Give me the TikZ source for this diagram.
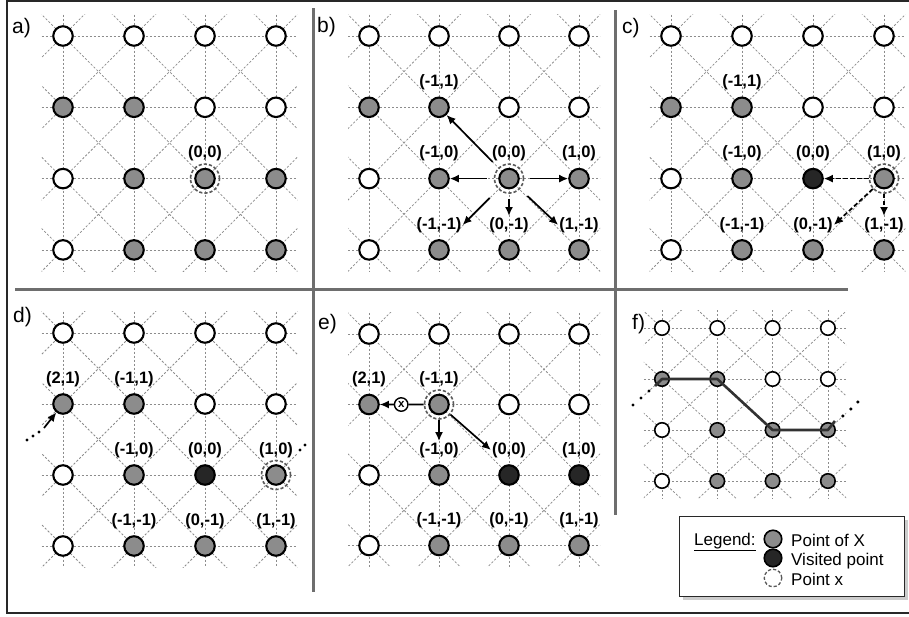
\documentclass[tikz,border=0pt]{standalone}
\usepackage{fontspec}
\setmainfont{Liberation Sans}
\usetikzlibrary{arrows.meta,calc}
\definecolor{ptgray}{RGB}{140,140,140}
\definecolor{visit}{RGB}{38,38,38}
\definecolor{gridc}{RGB}{140,140,140}
\definecolor{divc}{RGB}{110,110,110}
\definecolor{ringc}{RGB}{90,90,90}
\definecolor{framec}{RGB}{40,40,40}
\definecolor{pathc}{RGB}{50,50,50}
\tikzset{
  gridl/.style={gridc, line width=0.75pt, dash pattern=on 2.2pt off 1.8pt},
  pt/.style={circle, draw=black, line width=2.1pt, minimum size=19.5pt, inner sep=0pt},
  spt/.style={circle, draw=black, line width=1.6pt, minimum size=14.5pt, inner sep=0pt},
  ring/.style={circle, draw=ringc, line width=1.6pt, dash pattern=on 3.2pt off 2pt, minimum size=29pt, inner sep=0pt},
  lbl/.style={font=\bfseries\fontsize{16.5}{16.5}\selectfont, inner sep=1pt},
  plbl/.style={font=\fontsize{21}{21}\selectfont, anchor=base west, inner sep=0pt},
  legtxt/.style={font=\fontsize{17}{17}\selectfont, anchor=base west, inner sep=0pt},
  arr/.style={-{Latex[length=9pt,width=8pt]}, line width=1.7pt, black},
  darr/.style={arr, dash pattern=on 4.5pt off 2.5pt},
  divider/.style={divc, line width=3pt},
  pathl/.style={pathc, line width=2.6pt, line join=round},
  xcirc/.style={circle, draw=black, line width=1.4pt, fill=white, minimum size=13.5pt, inner sep=0pt, font=\bfseries\fontsize{11.5}{11.5}\selectfont}
}
\newcommand\latgrid[2]{%
  \foreach \k in {0,...,3} {
    \draw[gridl] (-#1,\k) -- (3+#1,\k);
    \draw[gridl] (\k,-#2) -- (\k,3+#2);
  }
  \begin{scope}
    \clip (-#1,-#2) rectangle (3+#1,3+#2);
    \foreach \k in {-3,...,3} \draw[gridl] (\k-1,-1) -- (\k+5,5);
    \foreach \k in {0,...,6} \draw[gridl] (\k+1,-1) -- (\k-5,5);
  \end{scope}
}
\newcommand\lab[4]{\node[lbl] (#1-l-#2-#3) at ([yshift=25pt]#1-#2-#3) {#4};}
\def\ptsA{0/0/white,1/0/white,2/0/white,3/0/white,0/1/ptgray,1/1/ptgray,2/1/white,3/1/white,0/2/white,1/2/ptgray,2/2/ptgray,3/2/ptgray,0/3/white,1/3/ptgray,2/3/ptgray,3/3/ptgray}
\def\ptsC{0/0/white,1/0/white,2/0/white,3/0/white,0/1/ptgray,1/1/ptgray,2/1/white,3/1/white,0/2/white,1/2/ptgray,2/2/visit,3/2/ptgray,0/3/white,1/3/ptgray,2/3/ptgray,3/3/ptgray}
\def\ptsE{0/0/white,1/0/white,2/0/white,3/0/white,0/1/ptgray,1/1/ptgray,2/1/white,3/1/white,0/2/white,1/2/ptgray,2/2/visit,3/2/visit,0/3/white,1/3/ptgray,2/3/ptgray,3/3/ptgray}
\begin{document}
\begin{tikzpicture}[x=1pt,y=-1pt]
\useasboundingbox (0,0) rectangle (909,616);
\fill[white] (0,0) rectangle (909,616);
% frame and dividers
\draw[framec, line width=1.5pt] (7,1) rectangle (916,613);
\draw[divider] (15,289) -- (848,289);
\draw[divider] (313,8) -- (313,592);
\draw[divider] (615,10) -- (615,515);

% ---------- panel a
\begin{scope}[shift={(63,36)}, x=71pt, y=-71.3pt]
  \latgrid{0.3}{0.3}
  \foreach \i/\j/\c in \ptsA {\node[pt, fill=\c] (a-\i-\j) at (\i,\j) {};}
\end{scope}
\node[ring] (a-ring) at (a-2-2) {};
\lab{a}{2}{2}{(0,0)}
\node[plbl] (la) at (12,33) {a)};

% ---------- panel b
\begin{scope}[shift={(369,36)}, x=70pt, y=-71.3pt]
  \latgrid{0.3}{0.3}
  \foreach \i/\j/\c in \ptsA {\node[pt, fill=\c] (b-\i-\j) at (\i,\j) {};}
\end{scope}
\node[ring] (b-ring) at (b-2-2) {};
\lab{b}{1}{1}{(-1,1)}
\lab{b}{1}{2}{(-1,0)}
\lab{b}{2}{2}{(0,0)}
\lab{b}{3}{2}{(1,0)}
\lab{b}{1}{3}{(-1,-1)}
\lab{b}{2}{3}{(0,-1)}
\lab{b}{3}{3}{(1,-1)}
\node[plbl] (lb) at (317,32) {b)};
\draw[arr, shorten <=8pt] (b-ring) -- (b-1-1);
\draw[arr, shorten <=7pt] (b-ring) -- (b-1-2);
\draw[arr, shorten <=6pt] (b-ring) -- (b-3-2);
\draw[arr, shorten <=12pt] (b-ring) -- (b-l-1-3.east);
\draw[arr, shorten <=5pt] (b-ring) -- (b-l-2-3.north);
\draw[arr, shorten <=10pt] (b-ring) -- (b-l-3-3.west);

% ---------- panel c
\begin{scope}[shift={(671,36)}, x=71pt, y=-71.3pt]
  \latgrid{0.3}{0.3}
  \foreach \i/\j/\c in \ptsC {\node[pt, fill=\c] (c-\i-\j) at (\i,\j) {};}
\end{scope}
\node[ring] (c-ring) at (c-3-2) {};
\lab{c}{1}{1}{(-1,1)}
\lab{c}{1}{2}{(-1,0)}
\lab{c}{2}{2}{(0,0)}
\lab{c}{3}{2}{(1,0)}
\lab{c}{1}{3}{(-1,-1)}
\lab{c}{2}{3}{(0,-1)}
\lab{c}{3}{3}{(1,-1)}
\node[plbl] (lc) at (622,33) {c)};
\draw[darr] (c-ring) -- (c-2-2);
\draw[darr] (c-ring) -- (c-l-3-3.north);
\draw[darr] (c-ring) -- (c-l-2-3.east);

% ---------- panel d
\begin{scope}[shift={(63,333)}, x=71pt, y=-71pt]
  \latgrid{0.3}{0.3}
  \foreach \i/\j/\c in \ptsC {\node[pt, fill=\c] (d-\i-\j) at (\i,\j) {};}
\end{scope}
\node[ring] (d-ring) at (d-3-2) {};
\lab{d}{0}{1}{(2,1)}
\lab{d}{1}{1}{(-1,1)}
\lab{d}{1}{2}{(-1,0)}
\lab{d}{2}{2}{(0,0)}
\lab{d}{3}{2}{(1,0)}
\lab{d}{1}{3}{(-1,-1)}
\lab{d}{2}{3}{(0,-1)}
\lab{d}{3}{3}{(1,-1)}
\node[plbl] (ld) at (13,322) {d)};
\coordinate (d-tail) at ($(d-0-1)+(-19pt,-24pt)$);
\draw[arr] (d-tail) -- (d-0-1);
\fill ($(d-tail)+(-5pt,-4pt)$) circle (1.6pt);
\fill ($(d-tail)+(-11pt,-8pt)$) circle (1.6pt);
\fill ($(d-tail)+(-17pt,-12pt)$) circle (1.6pt);
\fill ($(d-3-2)+(24pt,25pt)$) circle (1.6pt);
\fill ($(d-3-2)+(29pt,30pt)$) circle (1.6pt);

% ---------- panel e
\begin{scope}[shift={(369,334)}, x=70pt, y=-70.5pt]
  \latgrid{0.3}{0.3}
  \foreach \i/\j/\c in \ptsE {\node[pt, fill=\c] (e-\i-\j) at (\i,\j) {};}
\end{scope}
\node[ring] (e-ring) at (e-1-1) {};
\lab{e}{0}{1}{(2,1)}
\lab{e}{1}{1}{(-1,1)}
\lab{e}{1}{2}{(-1,0)}
\lab{e}{2}{2}{(0,0)}
\lab{e}{3}{2}{(1,0)}
\lab{e}{1}{3}{(-1,-1)}
\lab{e}{2}{3}{(0,-1)}
\lab{e}{3}{3}{(1,-1)}
\node[plbl] (le) at (318,329) {e)};
\node[xcirc] (e-xc) at ($(e-0-1)!0.46!(e-1-1)$) {x};
\draw[line width=1.7pt] (e-ring) -- (e-xc);
\draw[arr] (e-xc) -- (e-0-1);
\draw[arr] (e-ring) -- (e-l-1-2.north);
\draw[arr] (e-ring) -- (e-l-2-2.west);

% ---------- panel f
\begin{scope}[shift={(662,328)}, x=55.3pt, y=-51pt]
  \latgrid{0.33}{0.35}
  \foreach \i/\j/\c in \ptsA {\node[spt, fill=\c] (f-\i-\j) at (\i,\j) {};}
\end{scope}
\node[plbl] (lf) at (632,329) {f)};
\coordinate (f-in) at ($(f-0-1)+(-7pt,-7pt)$);
\coordinate (f-out) at ($(f-3-2)+(7pt,9pt)$);
\draw[pathl] (f-in) -- (f-0-1.center) -- (f-1-1.center) -- (f-2-2.center) -- (f-3-2.center) -- (f-out);
\fill ($(f-in)+(-6pt,-5pt)$) circle (1.7pt);
\fill ($(f-in)+(-14pt,-12pt)$) circle (1.7pt);
\fill ($(f-in)+(-22pt,-19pt)$) circle (1.7pt);
\fill ($(f-out)+(8pt,5pt)$) circle (1.7pt);
\fill ($(f-out)+(16pt,12pt)$) circle (1.7pt);
\fill ($(f-out)+(23pt,19pt)$) circle (1.7pt);

% ---------- legend
\fill[black!20] (683,520) rectangle (908,600);
\draw[framec, fill=white, line width=1pt] (679,516) rectangle (904,596);
\node[legtxt] (lg) at (694,545) {\underline{Legend:}};
\node[pt, fill=ptgray, minimum size=17.5pt, line width=1.6pt] (lg-g) at (773,539) {};
\node[pt, fill=visit, minimum size=17.5pt, line width=1.6pt] (lg-b) at (773,558) {};
\node[ring, minimum size=17.5pt, line width=1.3pt] (lg-r) at (773,578) {};
\node[legtxt] (lg-gt) at (791,546) {Point of X};
\node[legtxt] (lg-bt) at (791,565) {Visited point};
\node[legtxt] (lg-rt) at (791,585) {Point x};
\end{tikzpicture}
\end{document}
